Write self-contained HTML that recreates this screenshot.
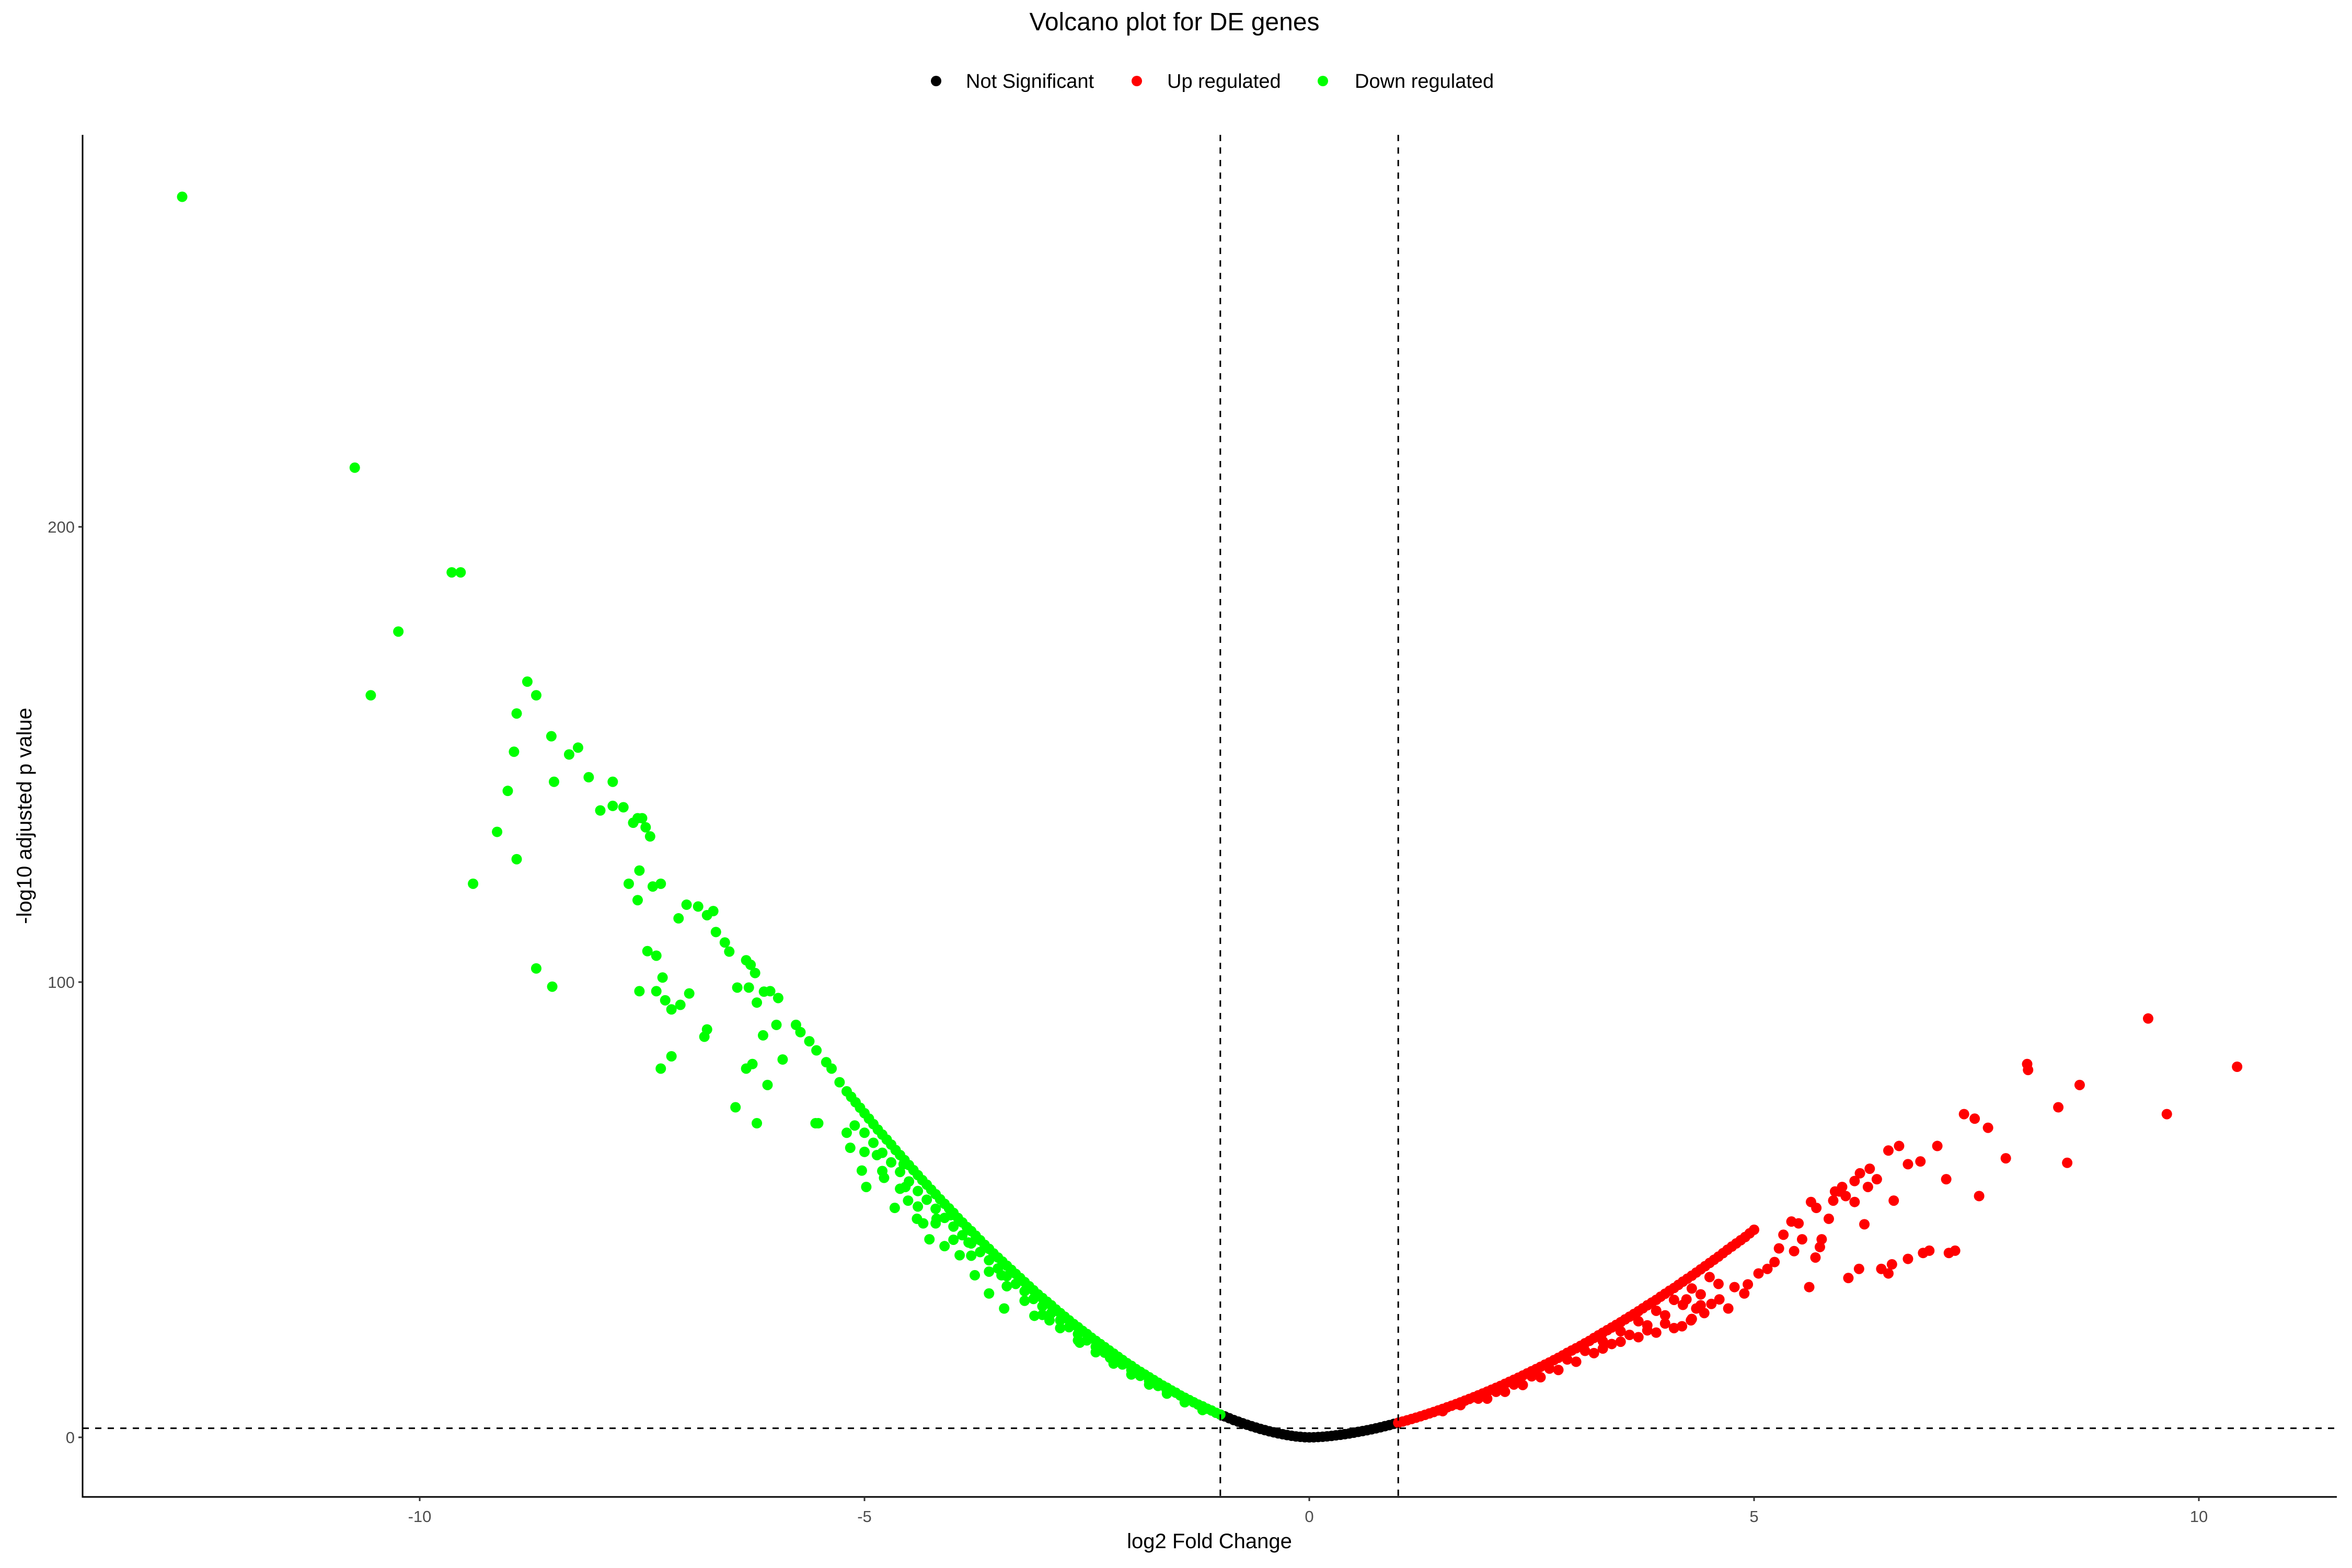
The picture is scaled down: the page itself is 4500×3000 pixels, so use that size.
<!DOCTYPE html>
<html><head><meta charset="utf-8"><style>
html,body{margin:0;padding:0;background:#fff;}
svg{display:block;font-family:"Liberation Sans",Arial,sans-serif;}
</style></head><body>
<svg id="chart" width="4500" height="3000" viewBox="0 0 4500 3000" xmlns="http://www.w3.org/2000/svg">
<rect width="4500" height="3000" fill="#fff"/>
<text x="2247" y="58" font-size="48" text-anchor="middle">Volcano plot for DE genes</text>
<g font-size="38">
<g><circle cx="1791" cy="155" r="10" fill="#000"/><text x="1848" y="168">Not Significant</text></g>
<g><circle cx="2175" cy="155" r="10" fill="#ff0000"/><text x="2233" y="168">Up regulated</text></g>
<g><circle cx="2531" cy="155" r="10" fill="#00ff00"/><text x="2592" y="168">Down regulated</text></g>
</g>
<g id="axes"></g>
<g id="points"></g>
<g id="refs"></g>
<text x="2314" y="2962" font-size="40" text-anchor="middle">log2 Fold Change</text>
<text transform="translate(60,1561) rotate(-90)" font-size="40" text-anchor="middle">-log10 adjusted p value</text>
</svg>
<script>
const xTicks = [-10, -5, 0, 5, 10];
const yTicks = [0, 100, 200];
const fcThresholds = [-1, 1];
const pThreshold = 2;

const nsX = [-1.0,-0.9,-0.8,-0.7,-0.6,-0.5,-0.4,-0.3,-0.2,-0.1,0,0.1,0.2,0.3,0.4,0.5,0.6,0.7,0.8,0.9,1.0,-0.95,-0.85,-0.75,-0.65,-0.55,-0.45,-0.35,-0.25,-0.15,-0.05,0.05,0.15,0.25,0.35,0.45,0.55,0.65,0.75,0.85,0.95];
const nsY = [5.0,4.2,3.46,2.77,2.15,1.59,1.10,0.69,0.35,0.11,0,0.07,0.22,0.44,0.70,1.02,1.38,1.77,2.21,2.69,3.2,4.6,3.8,3.1,2.45,1.85,1.33,0.88,0.5,0.2,0.03,0.02,0.13,0.32,0.56,0.85,1.2,1.57,1.98,2.45,2.95];

const downX = [-12.67,-10.73,-10.55,-10.24,-9.64,-9.54,-9.40,-9.13,-9.01,-8.94,-8.91,-8.91,-8.79,-8.69,-8.69,-8.52,-8.51,-8.49,-8.32,-8.22,-8.10,-7.97,-7.83,-7.83,-7.71,-7.6,-7.55,-7.5,-7.46,-7.41,-7.65,-7.53,-7.55,-7.38,-7.29,-7.44,-7.34,-7.53,-7.34,-7.27,-7.24,-7.17,-7.29,-7.17,-7.09,-7.0,-6.87,-6.97,-7.07,-6.77,-6.70,-6.80,-6.77,-6.67,-6.57,-6.52,-6.43,-6.45,-6.33,-6.28,-6.23,-6.30,-6.21,-6.26,-6.33,-6.21,-6.13,-6.06,-5.97,-6.14,-6.09,-5.99,-5.92,-5.77,-5.72,-5.62,-5.54,-5.55,-5.52,-5.43,-5.37,-5.28,
-5.2,-5.1,-5.0,-4.9,-4.8,-4.7,-4.6,-4.5,-4.4,-4.3,-4.2,-4.1,-4.0,-3.9,-3.8,-3.7,-3.6,-3.5,-3.4,-3.3,-3.2,-3.1,-3.0,-2.9,-2.8,-2.7,-2.6,-2.5,-2.4,-2.3,-2.2,-2.1,-2.0,-1.9,-1.8,-1.7,-1.6,-1.5,-1.4,-1.3,-1.2,-1.1,-1.0,
-5.2,-5.0,-4.8,-4.6,-4.4,-4.2,-4.0,-3.8,-3.6,-3.4,-3.2,-3.0,-2.8,-2.6,-2.4,-2.2,-2.0,-1.8,-1.6,-1.4,-1.2,
-4.98,-4.78,-4.51,-4.41,-4.27,-4.19,-4.1,-3.93,-3.76,-3.6,-3.43,-5.16,-5.11,-5.03,-4.86,-4.66,-4.56,-4.54,-4.34,-4.03,-3.83,-3.46,-3.09,-2.92,-2.58,-2.24];
const downY = [272.5,213,163,177,190,190,121.6,133,142,150.6,127,159,166,163,103,154,99,144,150,151.5,145,137.7,144,138.7,138.4,135,136,136,134,132,121.6,124.5,118,121,121.6,106.8,105.8,98,98,101,96,94,81,83.7,114,117,116.6,97.5,95,114.7,115.6,88,89.6,111,108.7,106.7,98.8,72.5,104.8,103.8,102,98.8,95.5,82,81,69,97.9,98,96.5,88.3,77.4,90.6,83,90.6,89,87,85,69,69,82.4,81,78,
76.0,73.6,71.2,68.8,66.5,64.3,62.0,59.8,57.6,55.5,53.4,51.3,49.3,47.2,45.3,43.3,41.4,39.5,37.7,35.9,34.1,32.3,30.6,29.0,27.3,25.7,24.2,22.7,21.2,19.8,18.4,17.0,15.7,14.4,13.2,12.0,10.9,9.8,8.7,7.7,6.8,5.9,5.0,
66.9,62.7,58.5,54.6,50.7,47.0,43.4,39.9,36.4,33.2,30.0,26.9,24.0,21.3,18.7,16.2,13.8,11.6,9.6,7.7,6.0,
55,57,52,48,43.5,48,42,40,35.6,31.6,28.3,63.6,68.5,58.6,62,50.4,60,55,47,48.8,42.8,35.6,26.7,25.7,20.8,17.5];
const downBandX = [-5.15,-5.05,-4.95,-4.85,-4.75,-4.65,-4.55,-4.45,-4.35,-4.25,-4.15,-4.05,-3.95,-3.85,-3.75,-3.65,-3.55,-3.45,-3.35,-3.25,-3.15,-3.05,-2.95,-2.85,-2.75,-2.65,-2.55,-2.45,-2.35,-2.25,-2.15,-2.05,-1.95,-1.85,-1.75,-1.65,-1.55,-1.45,-1.35,-1.25,-1.15,-1.05,
-5.0,-4.8,-4.6,-4.4,-4.2,-4.0,-3.8,-3.6,-3.4,-3.2,-3.0,-2.8,-2.6,-2.4,-2.2,-2.0,-1.8,-1.6,
-4.9,-4.7,-4.5,-4.3,-4.1,-3.9,-3.7,-3.5,-3.3,-3.1,-2.9,-2.7,-2.5,-2.3,-2.1,-1.9,-1.7];
const downBandY = [74.8,72.4,70.0,67.6,65.4,63.1,60.9,58.7,56.5,54.4,52.3,50.3,48.2,46.2,44.3,42.3,40.4,38.6,36.8,35.0,33.2,31.4,29.8,28.1,26.5,24.9,23.4,21.9,20.5,19.1,17.7,16.3,15.0,13.8,12.6,11.4,10.3,9.2,8.2,7.2,6.3,5.4,
66.9,62.5,58.3,54.1,50.2,46.3,42.6,38.9,35.4,32.1,28.8,25.7,22.7,19.9,17.3,14.8,12.4,10.2,
64.7,60.4,56.2,52.2,48.2,44.4,40.7,37.1,33.7,30.4,27.3,24.2,21.3,18.6,16.0,13.5,11.3];

const upX = [10.43,9.43,9.64,8.66,8.42,8.52,8.07,8.08,7.83,7.63,7.48,7.36,7.53,7.26,7.19,7.16,7.06,6.87,6.73,6.97,6.90,6.73,6.63,6.51,6.51,6.55,6.43,6.57,6.30,6.38,6.19,6.13,6.13,6.03,6.24,6.28,6.18,6.06,5.99,5.96,5.91,5.89,5.84,5.76,5.70,5.64,5.69,5.74,5.62,5.54,5.50,5.45,5.42,5.33,5.23,5.28,5.15,5.05,4.93,4.89,4.78,4.71,4.61,4.52,4.44,4.35,4.29,4.24,4.19,
1.0,1.1,1.2,1.3,1.4,1.5,1.6,1.7,1.8,1.9,2.0,2.1,2.2,2.3,2.4,2.5,2.6,2.7,2.8,2.9,3.0,3.1,3.2,3.3,3.4,3.5,3.6,3.7,3.8,3.9,4.0,4.1,4.2,4.3,4.4,4.5,4.6,4.7,4.8,4.9,5.0,
2.0,2.2,2.4,2.6,2.8,3.0,3.2,3.4,3.6,3.8,4.0,4.2,4.4,4.6,
3.7,3.9,4.1,4.3,3.5,3.8,4.0,4.4,3.3];
const upY = [81.4,92,71,77.4,72.5,60.3,82,80.7,61.3,68,70,71,53,41,40.5,56.7,64,60.6,60,41,40.5,39.2,64,63,36,38,37,52,59,56.7,58,56.3,51.7,53,46.8,55,37,35,55,54,54,52,48,43.5,50.4,51.7,39.5,41.8,33,43.5,47,40.9,47.4,44.5,38.5,41.5,37,36,33.6,31.6,33,28.3,30.3,29.3,27.3,28.3,25.7,30.3,24.4,
3.2,3.74,4.32,4.93,5.57,6.25,6.95,7.68,8.44,9.23,10.04,10.88,11.75,12.65,13.57,14.53,15.49,16.45,17.47,18.56,19.58,20.67,21.82,22.98,24.13,25.28,26.5,27.7,29.0,30.2,31.55,32.8,34.2,35.5,36.9,38.3,39.7,41.2,42.6,44.0,45.6,
8.5,10.0,11.5,13.2,14.8,16.6,18.5,20.5,22.5,24.6,26.8,29.1,31.4,33.7,
22,23,24,26,21,23.5,25,29,19.5];
const upBandX = [1.05,1.15,1.25,1.35,1.45,1.55,1.65,1.75,1.85,1.95,2.05,2.15,2.25,2.35,2.45,2.55,2.65,2.75,2.85,2.95,3.05,3.15,3.25,3.35,3.45,3.55,3.65,3.75,3.85,3.95,4.05,4.15,4.25,4.35,4.45,4.55,4.65,4.75,4.85,4.95,
1.5,1.7,1.9,2.1,2.3,2.5,2.7,2.9,3.1,3.3,3.5,3.7,3.9,4.1,4.3,4.5];
const upBandY = [3.47,4.03,4.62,5.25,5.91,6.6,7.3,8.06,8.83,9.63,10.46,11.3,12.2,13.1,14.05,15.0,15.97,16.96,18.0,19.07,20.1,21.2,22.4,23.55,24.7,25.9,27.1,28.35,29.6,30.9,32.2,33.5,34.85,36.2,37.6,39.0,40.45,41.9,43.3,44.8,
5.75,7.07,8.5,10.0,11.6,13.4,15.1,17.1,19.0,21.1,23.3,25.5,27.8,30.2,32.7,35.2];

const L=158,R=4471,T=258,B=2864;
const sx = v => 2505 + v*170.2;
const sy = v => 2750 - v*8.71;
const NS='http://www.w3.org/2000/svg';
function mk(tag, attrs, parent){const e=document.createElementNS(NS,tag);for(const k in attrs)e.setAttribute(k,attrs[k]);parent.appendChild(e);return e;}

const axes=document.getElementById('axes');
let ax=mk('line',{x1:L,y1:T,x2:L,y2:B+1.5,stroke:'#000','stroke-width':3},axes);


ax=mk('line',{x1:L-1.5,y1:B,x2:R,y2:B,stroke:'#000','stroke-width':3},axes);


xTicks.forEach(t=>{
  const tk=mk('line',{x1:sx(t),y1:B,x2:sx(t),y2:B+8,stroke:'#333','stroke-width':3},axes);
  
  
  const tx=mk('text',{x:sx(t),y:B+48,'font-size':31,fill:'#4d4d4d','text-anchor':'middle'},axes);
  tx.textContent=String(t);
  
  
});
yTicks.forEach(t=>{
  const tk=mk('line',{x1:L-8,y1:sy(t),x2:L,y2:sy(t),stroke:'#333','stroke-width':3},axes);
  
  
  const tx=mk('text',{x:L-15,y:sy(t)+11,'font-size':31,fill:'#4d4d4d','text-anchor':'end'},axes);
  tx.textContent=String(t);
  
  
});

const pts=document.getElementById('points');
function series(xs,ys,color,name){
  const g=mk('g',{fill:color},pts);
  
  
  xs.forEach((x,i)=>{
    const c=mk('circle',{cx:sx(x),cy:sy(ys[i]),r:10},g);
    
    
  });
}
series(nsX,nsY,'#000000','series-not-significant');
series(upX,upY,'#ff0000','series-up-regulated');
series(upBandX,upBandY,'#ff0000','series-up-regulated-band');
series(downX,downY,'#00ff00','series-down-regulated');
series(downBandX,downBandY,'#00ff00','series-down-regulated-band');

const refs=document.getElementById('refs');
fcThresholds.forEach(v=>{
  const l=mk('line',{x1:sx(v),y1:T,x2:sx(v),y2:B,stroke:'#000','stroke-width':3,'stroke-dasharray':'12 12'},refs);
  
  
});
const hl=mk('line',{x1:L,y1:sy(pThreshold),x2:R,y2:sy(pThreshold),stroke:'#000','stroke-width':3,'stroke-dasharray':'12 12'},refs);


</script>
</body></html>
